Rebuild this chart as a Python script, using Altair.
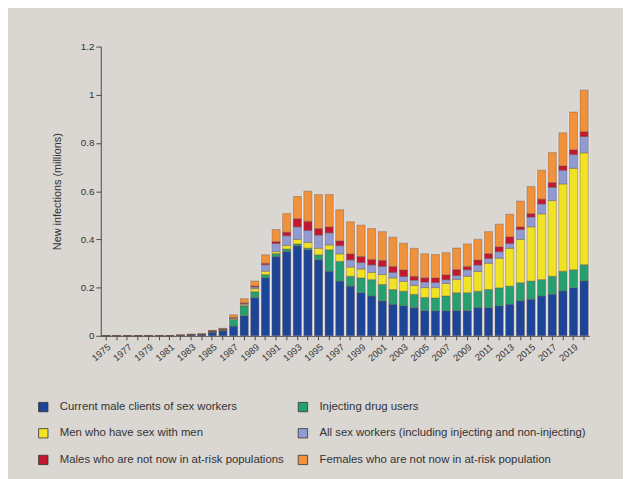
import altair as alt
import pandas as pd

years = list(range(1975, 2021))

categories = [
    "Current male clients of sex workers",
    "Injecting drug users",
    "Men who have sex with men",
    "All sex workers (including injecting and non-injecting)",
    "Males who are not now in at-risk populations",
    "Females who are not now in at-risk population",
]
colors = ["#1c4597", "#27a070", "#f2e224", "#8f9bd2", "#c3172f", "#f0913c"]

# legend reads row by row in two columns, grid fills column by column
legend_order = [0, 2, 4, 1, 3, 5]

# values in millions, 1975..2020
clients = [0, 0, 0, 0, 0, 0, 0,
           0.002, 0.004, 0.005, 0.015, 0.020, 0.040, 0.083, 0.158, 0.240,
           0.329, 0.350, 0.373, 0.357, 0.316, 0.268, 0.227, 0.206, 0.179,
           0.165, 0.145, 0.131, 0.124, 0.117, 0.104, 0.104, 0.104, 0.104,
           0.104, 0.117, 0.117, 0.124, 0.131, 0.145, 0.152, 0.165, 0.172,
           0.186, 0.199, 0.227]
idu = [0, 0, 0, 0, 0, 0, 0,
       0, 0.001, 0.001, 0.003, 0.004, 0.028, 0.041, 0.025, 0.014,
       0.012, 0.010, 0.008, 0.007, 0.020, 0.089, 0.082, 0.041, 0.061,
       0.068, 0.068, 0.061, 0.061, 0.055, 0.055, 0.053, 0.061, 0.075,
       0.075, 0.068, 0.075, 0.075, 0.075, 0.075, 0.075, 0.068, 0.075,
       0.082, 0.075, 0.068]
msm = [0, 0, 0, 0, 0, 0, 0,
       0, 0, 0, 0, 0.001, 0.003, 0.004, 0.012, 0.014,
       0.008, 0.015, 0.019, 0.023, 0.027, 0.020, 0.031, 0.038, 0.037,
       0.030, 0.041, 0.048, 0.041, 0.037, 0.041, 0.043, 0.052, 0.055,
       0.068, 0.082, 0.109, 0.123, 0.157, 0.180, 0.225, 0.273, 0.314,
       0.362, 0.421, 0.464]
sex_workers = [0, 0, 0, 0, 0, 0, 0,
               0, 0, 0, 0.001, 0.001, 0.003, 0.006, 0.008, 0.027,
               0.034, 0.040, 0.052, 0.050, 0.055, 0.050, 0.034, 0.030, 0.027,
               0.031, 0.034, 0.023, 0.020, 0.022, 0.023, 0.021, 0.016, 0.016,
               0.027, 0.027, 0.020, 0.027, 0.020, 0.041, 0.041, 0.041, 0.055,
               0.057, 0.057, 0.068]
males_other = [0, 0, 0, 0, 0, 0, 0,
               0, 0.001, 0.001, 0.002, 0.003, 0.002, 0.003, 0.004, 0.006,
               0.008, 0.015, 0.034, 0.038, 0.027, 0.025, 0.020, 0.025, 0.025,
               0.023, 0.025, 0.025, 0.027, 0.016, 0.018, 0.019, 0.020, 0.025,
               0.014, 0.020, 0.020, 0.020, 0.027, 0.011, 0.014, 0.020, 0.020,
               0.018, 0.020, 0.020]
females_other = [0, 0, 0, 0, 0, 0, 0,
                 0, 0, 0.001, 0.001, 0.002, 0.011, 0.017, 0.020, 0.035,
                 0.050, 0.077, 0.092, 0.125, 0.141, 0.134, 0.129, 0.133, 0.130,
                 0.128, 0.119, 0.121, 0.111, 0.116, 0.099, 0.097, 0.092, 0.089,
                 0.093, 0.086, 0.091, 0.094, 0.094, 0.107, 0.112, 0.120, 0.124,
                 0.137, 0.156, 0.172]

series = [clients, idu, msm, sex_workers, males_other, females_other]

rows = []
for k, (cat, vals) in enumerate(zip(categories, series)):
    for yr, v in zip(years, vals):
        rows.append({"year": yr, "category": cat, "value": v, "order": k})
df = pd.DataFrame(rows)

AX = "#4a4a4a"
TXT = "#333333"
FONT = "Liberation Sans"

x_enc = alt.X(
    "year:O",
    scale=alt.Scale(paddingInner=0, paddingOuter=0),
    axis=alt.Axis(
        title=None,
        labelExpr="datum.value % 2 == 1 ? datum.label : ''",
        labelAngle=-40,
        labelAlign="right",
        labelBaseline="top",
        labelFontSize=9.5,
        labelPadding=2,
        tickSize=4,
        domainColor=AX,
        tickColor=AX,
        labelColor=TXT,
        labelFont=FONT,
    ),
)

y_axis = alt.Axis(
    title="New infections (millions)",
    values=[0, 0.2, 0.4, 0.6, 0.8, 1.0, 1.2],
    format="~g",
    grid=False,
    tickSize=5,
    labelPadding=2,
    titlePadding=18,
    labelFontSize=10,
    titleFontSize=11,
    titleFontWeight="normal",
    domainColor=AX,
    tickColor=AX,
    labelColor=TXT,
    titleColor=TXT,
    labelFont=FONT,
    titleFont=FONT,
)
y_scale = alt.Scale(domain=[0, 1.2], nice=False)

base = alt.Chart(df)

backing = base.mark_bar(color="#eeedf2", width=alt.RelativeBandSize(1.0)).encode(
    x=x_enc,
    y=alt.Y("sum(value):Q", scale=y_scale, axis=y_axis),
)

bars = base.mark_bar(
    width=alt.RelativeBandSize(0.78),
    stroke="#6a5648",
    strokeWidth=0.6,
    strokeOpacity=0.7,
).encode(
    x=x_enc,
    y=alt.Y("value:Q", stack="zero", scale=y_scale, axis=y_axis),
    color=alt.Color(
        "category:N",
        scale=alt.Scale(
            domain=[categories[i] for i in legend_order],
            range=[colors[i] for i in legend_order],
        ),
        legend=alt.Legend(
            title=None,
            orient="none",
            legendX=-64,
            legendY=359,
            columns=2,
            columnPadding=12,
            rowPadding=13,
            symbolType="square",
            symbolSize=90,
            symbolStrokeColor="#333333",
            symbolStrokeWidth=0.8,
            labelFontSize=11.5,
            labelFont=FONT,
            labelColor=TXT,
            labelLimit=400,
            labelOffset=11,
        ),
    ),
    order=alt.Order("order:Q", sort="ascending"),
)

chart = (
    alt.layer(backing, bars)
    .properties(
        width=495,
        height=293,
        autosize=alt.AutoSizeParams(type="none"),
        padding={"left": 94, "top": 36, "right": 34, "bottom": 142},
        background="#dad6d2",
    )
    .configure_view(strokeWidth=0)
)

chart.save("out.html", embed_options={"renderer": "svg", "actions": False})
